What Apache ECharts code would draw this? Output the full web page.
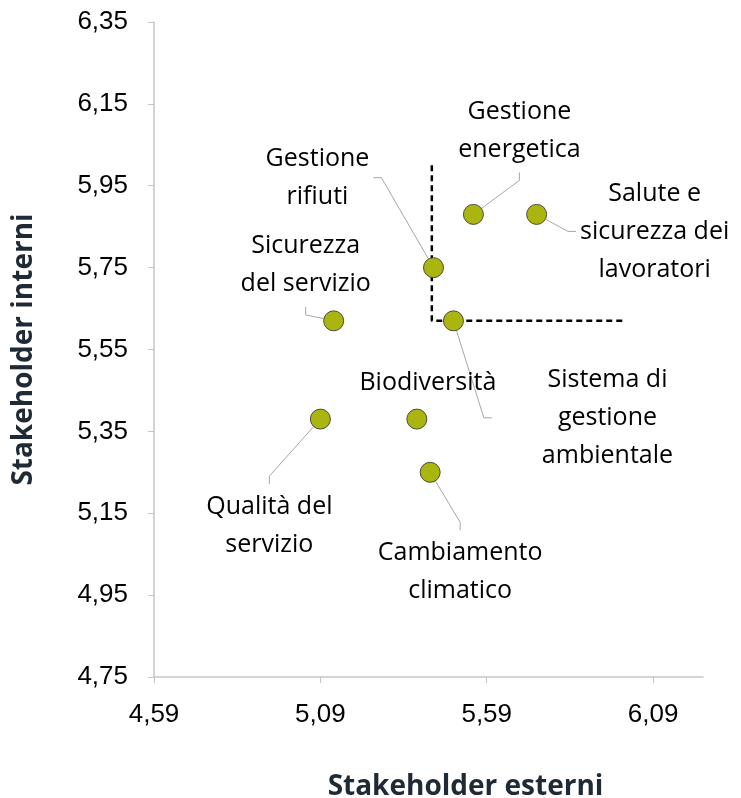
<!DOCTYPE html>
<html>
<head>
<meta charset="utf-8">
<script src="https://cdn.jsdelivr.net/npm/echarts@6/dist/echarts.min.js"></script>
<style>
html, body { margin: 0; padding: 0; background: #fff; }
#container { width: 741px; height: 798px; }
</style>
</head>
<body>
<div id="container"></div>
<script>
// temi materiali
var names = [
    'Qualità del\nservizio',
    'Sicurezza\ndel servizio',
    'Biodiversità',
    'Cambiamento\nclimatico',
    'Gestione\nrifiuti',
    'Sistema di\ngestione\nambientale',
    'Gestione\nenergetica',
    'Salute e\nsicurezza dei\nlavoratori'
];
var esterni = [5.09, 5.13, 5.38, 5.42, 5.43, 5.49, 5.55, 5.74];
var interni = [5.38, 5.62, 5.38, 5.25, 5.75, 5.62, 5.88, 5.88];

var xTicks = [4.59, 5.09, 5.59, 6.09];
// soglia di materialità (linea tratteggiata)
var sogliaX = [5.425, 5.425, 6.0];
var sogliaY = [6.0, 5.62, 5.62];

// spostamento etichette rispetto al punto (px)
var labelOffsets = [[-51, 107], [-28, -56], [11, -36], [30, 100], [-116, -90], [131, 97], [46, -84], [118, 17]];

var fmt = function (v) { return v.toFixed(2).replace('.', ','); };

var myChart = echarts.init(document.getElementById('container'));

var points = names.map(function (n, i) {
    var d = { name: n, value: [esterni[i], interni[i]] };
    if (n === 'Biodiversità') d.labelLine = { show: false };
    if (n.indexOf('Sistema') === 0) d.label = { padding: [4, 4, 4, 50] };
    return d;
});

var option = {
    animation: false,
    grid: { left: 154, right: 38, top: 22, bottom: 121, outerBoundsMode: 'none', containLabel: false },
    xAxis: {
        type: 'value',
        min: 4.59,
        max: 6.24,
        interval: 0.5,
        name: 'Stakeholder esterni',
        nameLocation: 'middle',
        nameGap: 96,
        nameTextStyle: { fontFamily: 'Open Sans', fontWeight: 'bold', fontSize: 28, color: '#1f2a35', padding: [0, 0, 0, 74] },
        axisLine: { lineStyle: { color: '#c6c6c6', width: 1.5 } },
        axisTick: { show: true, length: 6, customValues: xTicks, lineStyle: { color: '#c6c6c6' } },
        axisLabel: { customValues: xTicks, margin: 25, fontFamily: 'Liberation Sans', fontSize: 26, color: '#000', formatter: fmt },
        splitLine: { show: false }
    },
    yAxis: {
        type: 'value',
        min: 4.75,
        max: 6.35,
        interval: 0.2,
        name: 'Stakeholder interni',
        nameLocation: 'middle',
        nameGap: 116,
        nameTextStyle: { fontFamily: 'Open Sans', fontWeight: 'bold', fontSize: 28, color: '#1f2a35' },
        axisLine: { show: true, lineStyle: { color: '#c6c6c6', width: 1.5 } },
        axisTick: { show: true, length: 6, lineStyle: { color: '#c6c6c6' } },
        axisLabel: { margin: 26, fontFamily: 'Liberation Sans', fontSize: 26, color: '#000', formatter: fmt },
        splitLine: { show: false }
    },
    series: [
        {
            type: 'line',
            data: sogliaX.map(function (x, i) { return [x, sogliaY[i]]; }),
            symbol: 'none',
            lineStyle: { color: '#000', width: 2.5, type: [6, 4] },
            z: 1
        },
        {
            type: 'scatter',
            data: points,
            symbolSize: 20,
            itemStyle: { color: '#abb50f', borderColor: '#4a4a3a', borderWidth: 1, opacity: 1 },
            label: {
                show: true,
                position: 'inside',
                formatter: function (p) { return p.name; },
                fontFamily: 'Open Sans',
                fontSize: 25,
                lineHeight: 38,
                color: '#000',
                align: 'center',
                padding: 4
            },
            labelLine: {
                show: true,
                length2: 8,
                lineStyle: { color: '#a6a6a6', width: 1 }
            },
            labelLayout: function (params) {
                var o = labelOffsets[params.dataIndex];
                return { dx: o[0], dy: o[1] };
            },
            z: 3
        }
    ]
};
myChart.setOption(option);
</script>
</body>
</html>
